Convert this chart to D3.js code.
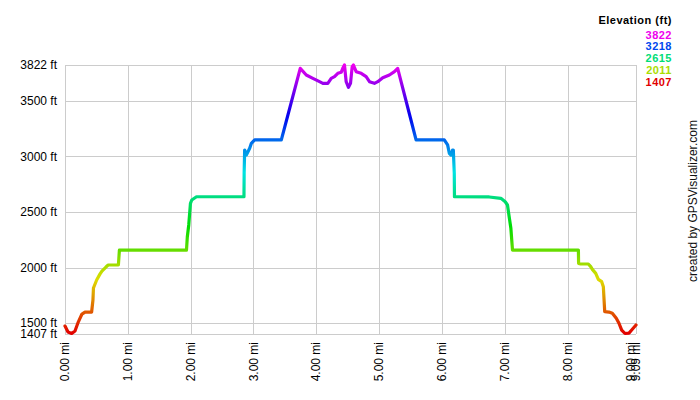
<!DOCTYPE html>
<html>
<head>
<meta charset="utf-8">
<script src="https://cdn.jsdelivr.net/npm/d3@7"></script>
<style>
  html, body { margin: 0; padding: 0; background: #fff; }
  svg { display: block; font-family: "Liberation Sans", Arial, sans-serif; }
</style>
</head>
<body>
<svg id="chart" width="700" height="400"></svg>
<script>
// ---- data ----
const distMi = [0.000,0.048,0.106,0.159,0.211,0.270,0.318,0.424,0.445,0.453,0.504,0.556,0.588,0.652,0.688,0.850,0.866,
  1.934,1.947,1.970,1.997,2.018,2.093,2.849,2.852,2.860,2.887,2.940,2.967,3.019,3.444,3.745,3.841,3.946,4.052,4.105,
  4.184,4.238,4.290,4.343,4.397,4.422,4.449,4.476,4.513,4.545,4.572,4.592,4.635,4.715,4.794,4.847,4.926,4.979,5.058,
  5.164,5.244,5.296,5.589,6.038,6.091,6.118,6.145,6.170,6.182,6.197,6.200,6.754,6.939,7.008,7.044,7.071,7.098,7.124,
  8.173,8.176,8.211,8.331,8.369,8.395,8.449,8.490,8.544,8.570,8.592,8.660,8.713,8.776,8.819,8.862,8.915,8.978,9.021,9.090];
const elevFt = [1474,1420,1407,1430,1510,1582,1600,1600,1708,1816,1888,1941,1969,2005,2023,2023,2157,
  2157,2275,2383,2578,2608,2637,2637,2848,3057,3012,3073,3118,3148,3148,3792,3732,3702,3672,3657,
  3657,3702,3717,3747,3756,3792,3822,3672,3621,3657,3807,3822,3762,3747,3717,3672,3657,3672,3708,
  3732,3762,3792,3148,3148,3103,3028,3012,3057,3057,2848,2637,2635,2623,2592,2563,2457,2353,2157,
  2157,2038,2032,2032,2008,1984,1948,1894,1873,1828,1603,1600,1589,1544,1499,1438,1407,1411,1438,1483];
const xTicks = [0,1,2,3,4,5,6,7,8,9,9.09];
const yTicks = [1407,1500,2000,2500,3000,3500,3822];
const legendValues = [3822,3218,2615,2011,1407];
const legendColors = ["#ee00ee","#0048ee","#00dd77","#aadd00","#e20000"];
const legendTitle = "Elevation (ft)";
const creditText = "created by GPSVisualizer.com";

// ---- layout ----
const svg = d3.select("#chart");
const x = d3.scaleLinear().domain([0, 9.09]).range([65, 636]);
const y = d3.scaleLinear().domain([1407, 3822]).range([333.5, 65]);
const color = d3.scaleLinear().domain(legendValues).range(legendColors).interpolate(d3.interpolateHsl);

// grid
const grid = svg.append("g").attr("stroke", "#cccccc").attr("stroke-width", 1).attr("shape-rendering", "crispEdges");
grid.selectAll("line.h").data(yTicks).join("line")
  .attr("x1", x(0)).attr("x2", x(9.09))
  .attr("y1", d => Math.round(y(d)) + 0.5).attr("y2", d => Math.round(y(d)) + 0.5);
grid.selectAll("line.v").data(xTicks.filter(d => d === 9.09 || x(9.09) - x(d) > 8)).join("line")
  .attr("y1", y(3822)).attr("y2", y(1407))
  .attr("x1", d => Math.round(x(d)) + 0.5).attr("x2", d => Math.round(x(d)) + 0.5);

// y axis labels
svg.append("g").selectAll("text").data(yTicks).join("text")
  .attr("x", 57).attr("y", d => y(d)).attr("dy", "0.35em")
  .attr("text-anchor", "end").attr("font-size", 12).attr("fill", "#000")
  .text(d => d + " ft");

// x axis labels (rotated)
svg.append("g").selectAll("text").data(xTicks).join("text")
  .attr("transform", d => `translate(${x(d)},342) rotate(-90)`)
  .attr("dy", "0.35em").attr("text-anchor", "end").attr("font-size", 12).attr("fill", "#000")
  .text(d => d3.format(".2f")(d) + " mi");

// gradient by elevation
const defs = svg.append("defs");
const grad = defs.append("linearGradient").attr("id", "elevGrad")
  .attr("gradientUnits", "userSpaceOnUse")
  .attr("x1", 0).attr("x2", 0).attr("y1", y(1407)).attr("y2", y(3822));
const stops = d3.range(0, 1.0001, 0.02);
grad.selectAll("stop").data(stops).join("stop")
  .attr("offset", d => d)
  .attr("stop-color", d => color(1407 + d * (3822 - 1407)));

// profile line
const pts = distMi.map((d, i) => [d, elevFt[i]]);
const line = d3.line().x(d => x(d[0])).y(d => y(d[1]));
svg.append("path").datum(pts)
  .attr("d", line)
  .attr("fill", "none")
  .attr("stroke", "url(#elevGrad)")
  .attr("stroke-width", 3.2)
  .attr("stroke-linejoin", "round")
  .attr("stroke-linecap", "round");

// legend
const lg = svg.append("g").attr("font-weight", "bold").attr("text-anchor", "end").attr("letter-spacing", "0.5px");
lg.append("text").attr("x", 672).attr("y", 24).attr("font-size", 11).attr("fill", "#000").text(legendTitle);
lg.selectAll("text.v").data(legendValues).join("text")
  .attr("class", "v")
  .attr("x", 672).attr("y", (d, i) => 38.5 + i * 11.75)
  .attr("font-size", 11)
  .attr("fill", (d, i) => legendColors[i])
  .text(d => d);

// credit
svg.append("text")
  .attr("transform", "translate(697,201) rotate(-90)")
  .attr("text-anchor", "middle").attr("font-size", 12).attr("fill", "#111")
  .text(creditText);
</script>
</body>
</html>
